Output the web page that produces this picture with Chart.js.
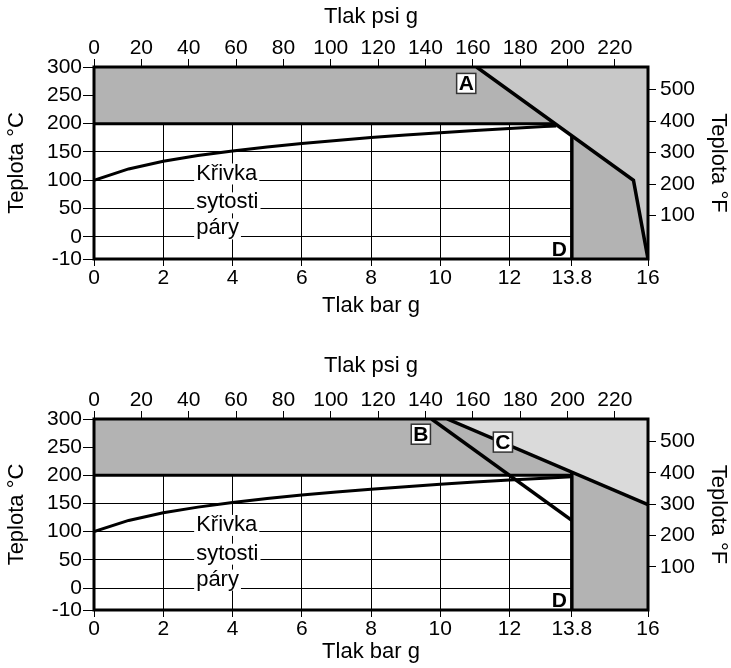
<!DOCTYPE html>
<html>
<head>
<meta charset="utf-8">
<script src="https://cdn.jsdelivr.net/npm/chart.js@4"></script>
<style>
  html, body { margin: 0; padding: 0; background: #fff; }
  #wrap { position: relative; width: 731px; height: 668px; }
  canvas { position: absolute; left: 0; }
  #c1 { top: 0; }
  #c2 { top: 352px; }
</style>
</head>
<body>
<div id="wrap">
  <canvas id="c1" width="731" height="330"></canvas>
  <canvas id="c2" width="731" height="316"></canvas>
</div>
<script>
const FONT = "'Liberation Sans', Arial, Helvetica, sans-serif";

// axis ticks
const barTicks = [0, 2, 4, 6, 8, 10, 12, 13.8, 16];
const psiTicks = [0, 20, 40, 60, 80, 100, 120, 140, 160, 180, 200, 220];
const psiMax = 234;
const tempTicksC = [-10, 0, 50, 100, 150, 200, 250, 300];
const tempTicksF = [100, 200, 300, 400, 500];

// saturated steam curve (bar g -> °C)
const satBar = [0, 1, 2, 3, 4, 5, 6, 7, 8, 9, 10, 11, 12, 13, 13.8];
const satTemp = [100, 120, 133.5, 143.6, 151.8, 158.8, 165, 170.4, 175.4, 179.9, 184.1, 188, 191.6, 195, 197.6];
const satEndTopBar = 13.35;
const satEndTopTemp = 196;

// upper diagram: limit line A
const lineABar = [11.05, 15.58, 16];
const lineATemp = [300, 100, -10];
const darkTopBar = [0, 0, 11.05, 13.31];
const darkTopTemp = [200, 300, 300, 200];
const darkRightBar = [13.8, 15.58, 16, 13.8];
const darkRightTemp = [178.4, 100, -10, -10];
const lightABar = [11.05, 16, 16, 15.58];
const lightATemp = [300, 300, -10, 100];
const limit200TopBar = [0, 13.31];
const limit138TopTemp = [178.4, -10];

// lower diagram: limit lines B and C
const lineBBar = [9.75, 13.8];
const lineBTemp = [300, 120];
const lineCBar = [10.2, 16];
const lineCTemp = [300, 148];
const darkLowBar = [0, 0, 10.2, 16, 16, 13.8, 13.8];
const darkLowTemp = [200, 300, 300, 148, -10, -10, 200];
const lightCBar = [10.2, 16, 16];
const lightCTemp = [300, 300, 148];
const limit200LowBar = [0, 13.8];
const limit138LowTemp = [205.7, -10];

// labels
const curveLabelLines = ['Křivka', 'sytosti', 'páry'];
const curveLabelBar = 2.95;
const curveLabelTemp = [112, 61, 15];
const dLabelBar = 13.44;
const dLabelTemp = -6;

const DARK = '#b3b3b3';
const LIGHT_A = '#c8c8c8';
const LIGHT_C = '#dadada';

// the diagram stretches the -10..0 band
const belowZero = 3.9;
function yc(t) { return t < 0 ? t * belowZero : t; }
const pts = (xs, ys) => xs.map((x, i) => ({ x, y: yc(ys[i]) }));

function area(xs, ys, color) {
  return { data: pts(xs, ys), showLine: true, fill: 'shape', backgroundColor: color,
    borderWidth: 0, borderColor: 'transparent', pointRadius: 0, order: 5 };
}
function line(xs, ys, width) {
  return { data: pts(xs, ys), showLine: true, fill: false, borderColor: '#000',
    borderWidth: width, pointRadius: 0, order: 1 };
}

const tickFont = { family: FONT, size: 21, lineHeight: 1 };
const titleFont = { family: FONT, size: 22, lineHeight: 1.2 };

const framePlugin = {
  id: 'frame',
  afterDatasetsDraw(chart, args, opts) {
    const { ctx, chartArea: a, scales: { x, y } } = chart;
    ctx.save();
    ctx.textBaseline = 'middle';
    // curve label with white background
    ctx.font = '22px ' + FONT;
    ctx.textAlign = 'left';
    curveLabelLines.forEach((t, i) => {
      const px = x.getPixelForValue(curveLabelBar);
      const py = y.getPixelForValue(yc(curveLabelTemp[i]));
      const w = ctx.measureText(t).width;
      ctx.fillStyle = '#fff';
      ctx.fillRect(px - 2, py - 10, w + 4, 21);
      ctx.fillStyle = '#000';
      ctx.fillText(t, px, py);
    });
    // D
    ctx.font = 'bold 21px ' + FONT;
    ctx.textAlign = 'center';
    ctx.fillStyle = '#000';
    ctx.fillText('D', x.getPixelForValue(dLabelBar), y.getPixelForValue(yc(dLabelTemp)));
    // boxed labels
    opts.boxText.forEach((t, i) => {
      const px = x.getPixelForValue(opts.boxBar[i]);
      const py = y.getPixelForValue(yc(opts.boxTemp[i]));
      const w = ctx.measureText(t).width + 4;
      ctx.fillStyle = '#fff';
      ctx.fillRect(px - w / 2, py - 10, w, 20);
      ctx.lineWidth = 1.5;
      ctx.strokeStyle = '#333';
      ctx.strokeRect(px - w / 2, py - 10, w, 20);
      ctx.fillStyle = '#000';
      ctx.fillText(t, px, py + 1);
    });
    // frame
    ctx.lineWidth = 3;
    ctx.strokeStyle = '#000';
    ctx.strokeRect(a.left, a.top, a.right - a.left, a.bottom - a.top);
    ctx.restore();
  }
};

function makeChart(id, datasets, cfg) {
  const fMin = 32 + 1.8 * yc(-10);
  const fMax = 32 + 1.8 * 300;
  return new Chart(document.getElementById(id), {
    type: 'scatter',
    data: { datasets },
    plugins: [framePlugin],
    options: {
      responsive: false,
      animation: false,
      devicePixelRatio: 1,
      layout: { padding: 0 },
      plugins: {
        legend: { display: false },
        tooltip: { enabled: false },
        frame: { boxText: cfg.boxText, boxBar: cfg.boxBar, boxTemp: cfg.boxTemp }
      },
      scales: {
        x: {
          type: 'linear', position: 'bottom', min: 0, max: 16,
          afterBuildTicks: s => { s.ticks = barTicks.map(v => ({ value: v })); },
          afterFit: s => { s.height = cfg.bottomH; },
          ticks: { font: tickFont, color: '#000', padding: 2, maxRotation: 0, autoSkip: false,
            callback: v => String(v) },
          grid: {
            color: c => (c.tick && c.tick.value > 0 && c.tick.value < 13) ? '#000' : 'transparent',
            tickColor: '#000', tickLength: 7, lineWidth: 1
          },
          border: { display: false },
          title: { display: true, text: 'Tlak bar g', font: titleFont, color: '#000',
            padding: { top: 0, bottom: cfg.barTitlePad } }
        },
        xPsi: {
          type: 'linear', position: 'top', min: 0, max: psiMax,
          afterBuildTicks: s => { s.ticks = psiTicks.map(v => ({ value: v })); },
          afterFit: s => { s.height = 67; },
          ticks: { font: tickFont, color: '#000', padding: 0, maxRotation: 0, autoSkip: false },
          grid: { drawOnChartArea: false, tickColor: '#000', tickLength: 8 },
          border: { display: false },
          title: { display: true, text: 'Tlak psi g', font: titleFont, color: '#000',
            padding: { top: cfg.psiTitlePad, bottom: 0 } }
        },
        y: {
          type: 'linear', position: 'left', min: yc(-10), max: 300,
          afterBuildTicks: s => { s.ticks = tempTicksC.map(v => ({ value: yc(v) })); },
          afterFit: s => { s.width = 94; },
          ticks: { font: tickFont, color: '#000', padding: 1,
            callback: v => String(v < 0 ? Math.round(v / belowZero) : v) },
          grid: {
            color: c => (c.tick && c.tick.value >= 0 && c.tick.value < 300) ? '#000' : 'transparent',
            tickColor: '#000', tickLength: 11, lineWidth: 1
          },
          border: { display: false },
          title: { display: true, text: 'Teplota °C', font: titleFont, color: '#000',
            padding: { top: 4, bottom: 0 } }
        },
        yF: {
          type: 'linear', position: 'right', min: fMin, max: fMax,
          afterBuildTicks: s => { s.ticks = tempTicksF.map(v => ({ value: v })); },
          afterFit: s => { s.width = 83; },
          ticks: { font: tickFont, color: '#000', padding: 4 },
          grid: { drawOnChartArea: false, tickColor: '#000', tickLength: 8 },
          border: { display: false },
          title: { display: true, text: 'Teplota °F', font: titleFont, color: '#000',
            padding: { top: 0, bottom: 0 } }
        }
      }
    }
  });
}

// upper diagram
const satTopBar = satBar.filter(b => b < satEndTopBar).concat([satEndTopBar]);
const satTopTemp = satTemp.slice(0, satTopBar.length - 1).concat([satEndTopTemp]);

makeChart('c1', [
  line(satTopBar, satTopTemp, 3),
  line(lineABar, lineATemp, 3.5),
  line(limit200TopBar, [200, 200], 3),
  line([13.8, 13.8], limit138TopTemp, 3.5),
  area(darkTopBar, darkTopTemp, DARK),
  area(darkRightBar, darkRightTemp, DARK),
  area(lightABar, lightATemp, LIGHT_A)
], { bottomH: 71, barTitlePad: 11, psiTitlePad: 4,
     boxText: ['A'], boxBar: [10.75], boxTemp: [271] });

// lower diagram
makeChart('c2', [
  line(satBar, satTemp, 3),
  line(lineBBar, lineBTemp, 3.5),
  line(lineCBar, lineCTemp, 3.5),
  line(limit200LowBar, [200, 200], 3),
  line([13.8, 13.8], limit138LowTemp, 3.5),
  area(darkLowBar, darkLowTemp, DARK),
  area(lightCBar, lightCTemp, LIGHT_C)
], { bottomH: 58, barTitlePad: 3, psiTitlePad: 1,
     boxText: ['B', 'C'], boxBar: [9.44, 11.81], boxTemp: [273, 259] });
</script>
</body>
</html>
